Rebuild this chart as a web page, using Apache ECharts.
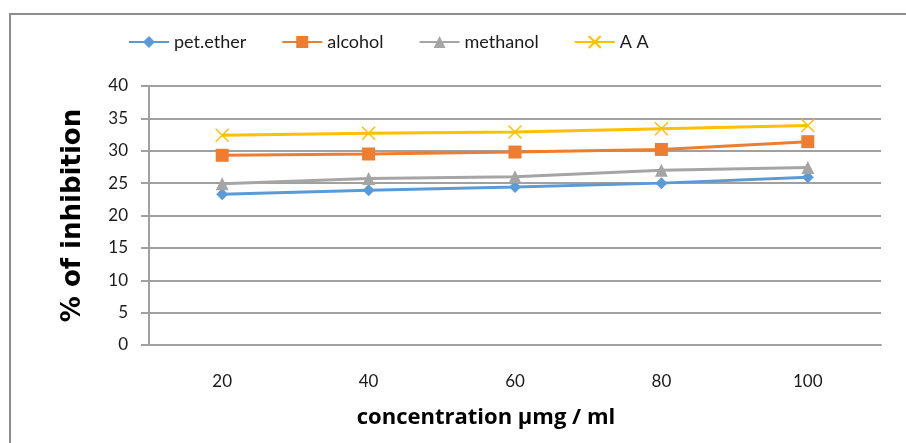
<!DOCTYPE html>
<html><head><meta charset="utf-8">
<script src="https://cdn.jsdelivr.net/npm/echarts@6/dist/echarts.min.js"></script>
<style>html,body{margin:0;padding:0;background:#fff}#c{width:906px;height:443px}</style>
</head><body><div id="c"></div>
<script>
const categories = ['20', '40', '60', '80', '100'];
const petEther = [23.3, 23.9, 24.4, 25.0, 25.9];
const alcohol = [29.3, 29.5, 29.8, 30.2, 31.4];
const methanol = [24.9, 25.7, 26.0, 27.0, 27.4];
const aa = [32.4, 32.7, 32.9, 33.4, 33.9];
const yTicks = { min: 0, max: 40, interval: 5 };

const FONT = 'Lato';
const TFONT = 'Open Sans';
const xPath = 'path://M0,0 L10,10 M10,0 L0,10';
function mk(name, data, color, symbol, size, extra) {
  return Object.assign({
    name, type: 'line', data, symbol, symbolSize: size,
    color,
    lineStyle: { color, width: 3 },
    itemStyle: { color },
    emphasis: { disabled: true },
    animation: false
  }, extra || {});
}
const chart = echarts.init(document.getElementById('c'));
chart.setOption({
  animation: false,
  graphic: [{ type: 'rect', shape: { x: 10, y: 14, width: 960, height: 500 },
    style: { fill: 'none', stroke: '#8c8c8c', lineWidth: 2 }, silent: true }],
  legend: {
    top: 28, left: 123, itemWidth: 40, itemHeight: 15, itemGap: 35,
    textStyle: { fontFamily: FONT, fontSize: 18, color: '#1a1a1a' },
    data: ['pet.ether', 'alcohol', 'methanol', 'A A']
  },
  grid: { left: 149, right: 25, top: 86, bottom: 98 },
  xAxis: {
    type: 'category', data: categories, boundaryGap: true,
    axisLine: { lineStyle: { color: '#a0a0a0', width: 2 } },
    axisTick: { show: false },
    axisLabel: { margin: 28, fontFamily: FONT, fontSize: 17, color: '#1a1a1a' },
    name: 'concentration µmg / ml', nameLocation: 'middle', nameGap: 62,
    nameTextStyle: { fontFamily: TFONT, fontSize: 22, fontWeight: 'bold', color: '#000', padding: [0, 58, 0, 0] }
  },
  yAxis: {
    type: 'value', min: yTicks.min, max: yTicks.max, interval: yTicks.interval,
    axisLine: { show: true, lineStyle: { color: '#a0a0a0', width: 2 } },
    axisTick: { show: true, length: 8, lineStyle: { color: '#a0a0a0', width: 2 } },
    splitLine: { lineStyle: { color: '#a0a0a0', width: 2 } },
    axisLabel: { margin: 21, fontFamily: FONT, fontSize: 17, color: '#1a1a1a' },
    name: '% of inhibition', nameLocation: 'middle', nameGap: 63,
    nameTextStyle: { fontFamily: 'DejaVu Sans', fontSize: 26, fontWeight: 'bold', color: '#000' }
  },
  series: [
    mk('pet.ether', petEther, '#5B9BD5', 'diamond', 12),
    mk('alcohol', alcohol, '#ED7D31', 'rect', 13),
    mk('methanol', methanol, '#A5A5A5', 'triangle', 13),
    mk('A A', aa, '#FFC000', xPath, 13, { itemStyle: { color: '#FFC000', borderColor: '#FFC000', borderWidth: 1.5 } })
  ]
});
</script></body></html>
